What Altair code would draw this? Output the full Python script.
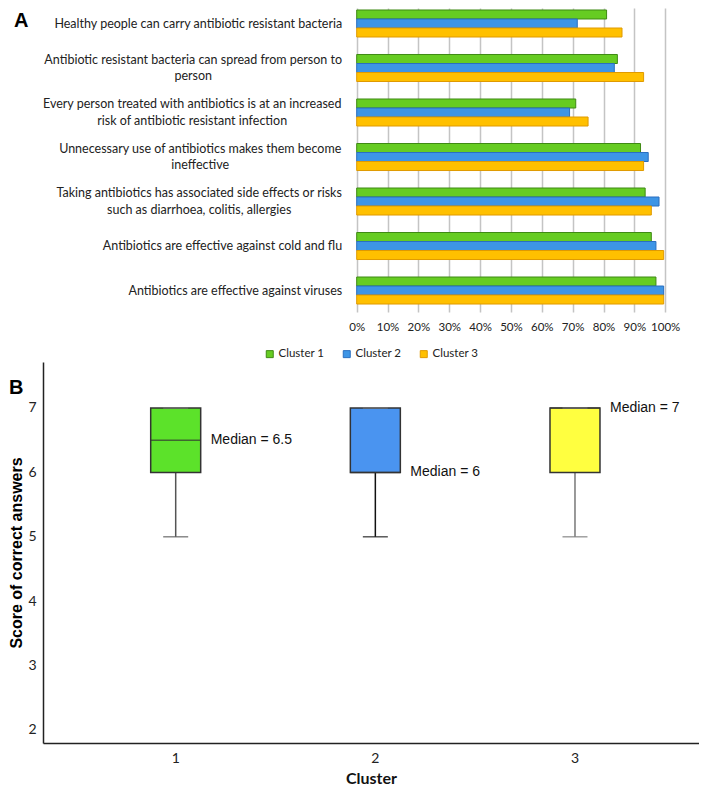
import altair as alt
import pandas as pd

# ---------------- Panel A data ----------------
statements = [
    "Healthy people can carry antibiotic resistant bacteria",
    "Antibiotic resistant bacteria can spread from person to|person",
    "Every person treated with antibiotics is at an increased|risk of antibiotic resistant infection",
    "Unnecessary use of antibiotics makes them become|ineffective",
    "Taking antibiotics has associated side effects or risks|such as diarrhoea, colitis, allergies",
    "Antibiotics are effective against cold and flu",
    "Antibiotics are effective against viruses",
]
cluster_names = ["Cluster 1", "Cluster 2", "Cluster 3"]
cluster1_pct = [81, 84.5, 71, 92, 93.5, 95.5, 97]
cluster2_pct = [71.5, 83.5, 69, 94.5, 98, 97, 99.5]
cluster3_pct = [86, 93, 75, 93, 95.5, 99.5, 99.5]
pct_ticks = [0, 0.1, 0.2, 0.3, 0.4, 0.5, 0.6, 0.7, 0.8, 0.9, 1.0]

bar_fill = ["#66cc22", "#3d95e6", "#ffc000"]
bar_stroke = ["#3f8a14", "#2a6fc0", "#e09a00"]

# ---------------- Panel B data ----------------
box_clusters = ["1", "2", "3"]
whisker_low = [5, 5, 5]
quart1 = [6, 6, 6]
medians = [6.5, 6, 7]
quart3 = [7, 7, 7]
whisker_high = [7, 7, 7]
median_text = ["Median = 6.5", "Median = 6", "Median = 7"]
score_ticks = [2, 3, 4, 5, 6, 7]
box_fill = ["#5ce22a", "#4a94f0", "#ffff40"]
whisker_col = ["#555555", "#111111", "#777777"]

# ---------------- Panel A ----------------
rows = []
for i, s in enumerate(statements):
    for cn, vals in zip(cluster_names, [cluster1_pct, cluster2_pct, cluster3_pct]):
        rows.append({"statement": s, "cluster": cn, "pct": vals[i] / 100.0})
dfA = pd.DataFrame(rows)

multi_test = "indexof(datum.value, '|') >= 0"
pad_map = {statements[1]: 164, statements[2]: 165, statements[3]: 157, statements[4]: 158}
label_padding = {
    "condition": [{"test": "datum.value === '%s'" % k, "value": v} for k, v in pad_map.items()],
    "value": 15,
}
label_align = {"condition": {"test": multi_test, "value": "center"}, "value": "right"}
label_offset = {"condition": {"test": multi_test, "value": -8.3}, "value": 0}

legendA = alt.Legend(
    title=None, orient="none", legendX=221, legendY=340, direction="horizontal",
    symbolType="square", symbolSize=49, symbolStrokeWidth=1,
    labelFont="Lato", labelFontSize=11.5, labelColor="#222", labelOffset=3,
    columnPadding=16,
)

bars = alt.Chart(dfA).mark_bar(strokeWidth=1).encode(
    y=alt.Y(
        "statement:N", sort=statements,
        scale=alt.Scale(paddingInner=0.393, paddingOuter=0.112, align=0.2),
        axis=alt.Axis(
            title=None, offset=-313.7, domain=False, ticks=False,
            labelExpr="split(datum.label, '|')", labelFont="Lato", labelFontSize=12.5,
            labelColor="#222", labelLimit=0, labelLineHeight=16.6,
            labelAlign=label_align, labelPadding=label_padding, labelOffset=label_offset,
            labelBaseline="middle",
        ),
    ),
    x=alt.X(
        "pct:Q",
        scale=alt.Scale(domain=[0, 1], range=[313.7, 622.2]),
        axis=alt.Axis(
            title=None, values=pct_ticks, format=".0%", domain=False, ticks=False,
            grid=True, gridColor="#c4c4c4", gridWidth=1.5, labelFlush=False,
            labelFont="Lato", labelFontSize=11.5, labelColor="#222", labelPadding=9,
        ),
    ),
    yOffset=alt.YOffset("cluster:N", sort=cluster_names,
                        scale=alt.Scale(paddingInner=0, paddingOuter=0)),
    color=alt.Color("cluster:N", scale=alt.Scale(domain=cluster_names, range=bar_fill),
                    legend=legendA),
    stroke=alt.Stroke("cluster:N", scale=alt.Scale(domain=cluster_names, range=bar_stroke),
                      legend=legendA),
)

letterA = alt.Chart(pd.DataFrame({"t": ["A"]})).mark_text(
    align="left", baseline="top", font="Liberation Sans", fontWeight="bold",
    fontSize=20, color="#000",
).encode(text="t:N", x=alt.value(-29), y=alt.value(3))

panelA = alt.layer(bars, letterA).properties(width=622, height=304)

# ---------------- Panel B ----------------
dfB = pd.DataFrame({
    "cluster": box_clusters, "low": whisker_low, "q1": quart1, "med": medians,
    "q3": quart3, "high": whisker_high, "label": median_text,
    "boxfill": box_fill, "wcol": whisker_col,
})

xB = alt.X(
    "cluster:N", sort=box_clusters,
    scale=alt.Scale(paddingInner=0.7496, paddingOuter=0.5177, align=0.521),
    axis=alt.Axis(
        title="Cluster", labelAngle=0, domain=True, domainColor="#222", domainWidth=1.5,
        ticks=False, labelFont="Lato", labelFontSize=14, labelColor="#222", labelPadding=8,
        titleFont="Lato", titleFontSize=16, titleFontWeight="bold", titleColor="#111",
        titlePadding=5,
    ),
)
yscale = alt.Scale(domain=[1.798, 7.714], nice=False, zero=False)
yB = alt.Y(
    "low:Q", scale=yscale,
    axis=alt.Axis(
        title="Score of correct answers", values=score_ticks, format="d", domain=True,
        domainColor="#222", domainWidth=1.5, ticks=False, grid=False,
        labelFont="Lato", labelFontSize=14, labelColor="#222", labelPadding=7,
        titleFont="Liberation Sans", titleFontSize=16, titleFontWeight="bold",
        titleColor="#000", titleX=-19, titleY=190.5, titleBaseline="bottom",
        titleAlign="center", titleAngle=270,
    ),
)

baseB = alt.Chart(dfB)

whisker = baseB.mark_rule(strokeWidth=1.5).encode(
    x=xB, y=yB, y2="q1:Q", color=alt.Color("wcol:N", scale=None))
cap_low = baseB.mark_tick(size=25, thickness=1.5).encode(
    x=xB, y=alt.Y("low:Q", scale=yscale), color=alt.Color("wcol:N", scale=None))
box = baseB.mark_bar(stroke="#333333", strokeWidth=1.5).encode(
    x=xB, y=alt.Y("q1:Q", scale=yscale), y2="q3:Q",
    fill=alt.Fill("boxfill:N", scale=None))
med_line = baseB.mark_tick(size=50, thickness=1.5, color="#333333").encode(
    x=xB, y=alt.Y("med:Q", scale=yscale))
cap_high = baseB.mark_tick(size=25, thickness=1.5, color="#777777").encode(
    x=xB, y=alt.Y("high:Q", scale=yscale))
med_label = baseB.mark_text(
    align="left", baseline="middle", dx=35, font="Liberation Sans", fontSize=14,
    color="#111111",
).encode(x=xB, y=alt.Y("med:Q", scale=yscale), text="label:N")

letterB = alt.Chart(pd.DataFrame({"t": ["B"]})).mark_text(
    align="left", baseline="top", font="Liberation Sans", fontWeight="bold",
    fontSize=20, color="#000",
).encode(text="t:N", x=alt.value(-34), y=alt.value(16))

anchor = alt.Chart(pd.DataFrame({"t": ["a"]})).mark_rule(strokeOpacity=0).encode(
    x=alt.value(-34), y=alt.value(0), y2=alt.value(5))

panelB = alt.layer(whisker, cap_low, box, med_line, cap_high, med_label, letterB, anchor
                   ).properties(width=656, height=381)

chart = alt.vconcat(panelA, panelB, spacing=50, bounds="flush").resolve_scale(
    color="independent", stroke="independent", fill="independent",
    x="independent", y="independent",
).resolve_legend(color="independent", stroke="independent", fill="independent"
).configure_view(stroke=None).properties(padding=0)

chart.save("out.html", embed_options={"renderer": "svg", "actions": False})
